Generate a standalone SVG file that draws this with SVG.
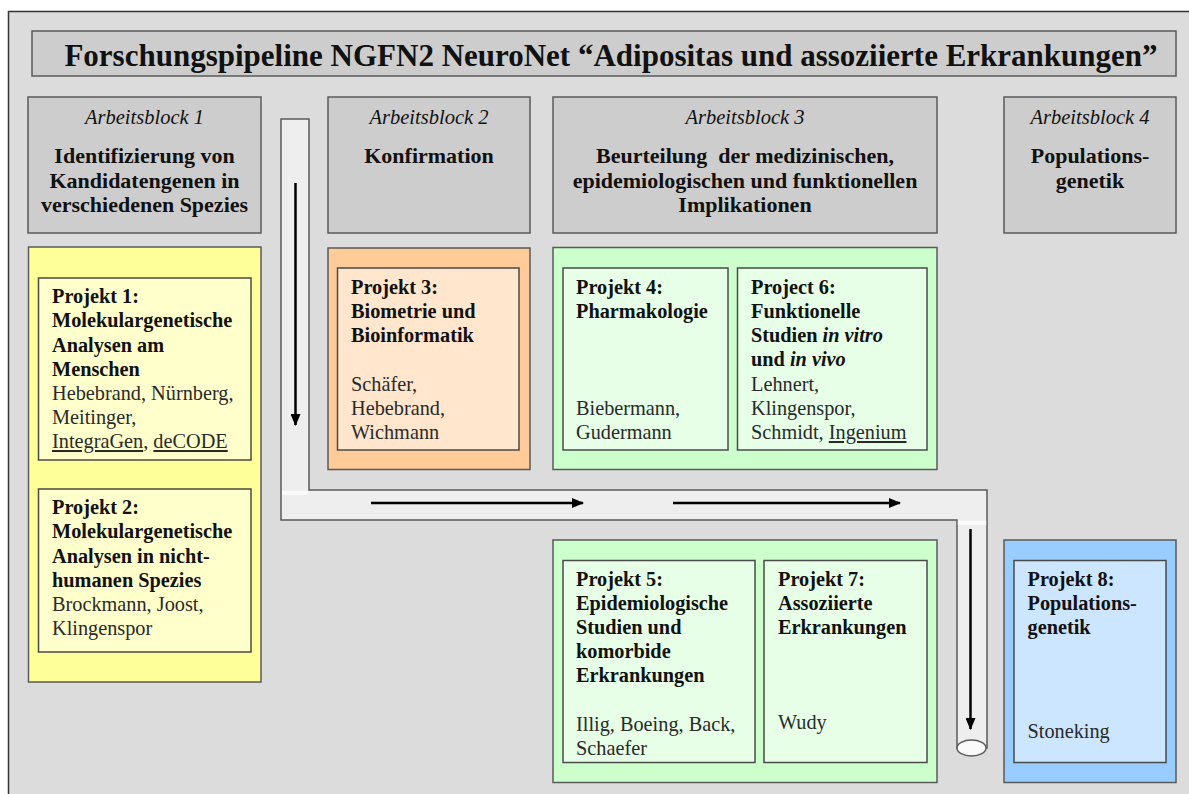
<svg xmlns="http://www.w3.org/2000/svg" width="1189" height="794" viewBox="0 0 1189 794">
<style>
text{font-family:"Liberation Serif","Times New Roman",serif;fill:#111}
.ab{fill:#cdcdcd;stroke:#5a5a5a;stroke-width:1.5}
.ttl{font-size:31px;font-weight:bold}
.it{font-size:20.5px;font-style:italic}
.hb{font-size:22px;font-weight:bold}
.pt{font-size:20.3px}
.b{font-weight:bold}
.nm{fill:#2a2a2a}
.u{text-decoration:underline}
.o{stroke:#5a5a5a;stroke-width:1.5}
.i{stroke:#4a4a4a;stroke-width:1.5}
.arr{stroke:#000;stroke-width:2.5;fill:none;marker-end:url(#ah)}
</style>
<defs>
<marker id="ah" viewBox="0 0 12 10" refX="11" refY="5" markerWidth="12" markerHeight="10" markerUnits="userSpaceOnUse" orient="auto">
<path d="M0,0 L12,5 L0,10 Z" fill="#000"/>
</marker>
</defs>
<rect x="0" y="0" width="1189" height="794" fill="#ffffff"/>
<rect id="frame" x="8.5" y="11.5" width="1190" height="800" fill="#dcdcdc" stroke="#333" stroke-width="1.5"/>

<g id="title">
<rect x="32" y="31" width="1144" height="45" class="ab"/>
<text x="611" y="66" text-anchor="middle" class="ttl">Forschungspipeline NGFN2 NeuroNet “Adipositas und assoziierte Erkrankungen”</text>
</g>

<g id="ab1">
<rect x="28" y="97" width="233" height="136" class="ab"/>
<text x="144.5" y="124" text-anchor="middle" class="it">Arbeitsblock 1</text>
<text text-anchor="middle" class="hb"><tspan x="144.5" y="163">Identifizierung von</tspan><tspan x="144.5" y="187.5">Kandidatengenen in</tspan><tspan x="144.5" y="212">verschiedenen Spezies</tspan></text>
</g>
<g id="ab2">
<rect x="328" y="97" width="202" height="136" class="ab"/>
<text x="429" y="124" text-anchor="middle" class="it">Arbeitsblock 2</text>
<text x="429" y="163" text-anchor="middle" class="hb">Konfirmation</text>
</g>
<g id="ab3">
<rect x="553" y="97" width="384" height="136" class="ab"/>
<text x="745" y="124" text-anchor="middle" class="it">Arbeitsblock 3</text>
<text text-anchor="middle" class="hb"><tspan x="745" y="163" xml:space="preserve">Beurteilung  der medizinischen,</tspan><tspan x="745" y="187.5">epidemiologischen und funktionellen</tspan><tspan x="745" y="212">Implikationen</tspan></text>
</g>
<g id="ab4">
<rect x="1004" y="97" width="172" height="136" class="ab"/>
<text x="1090" y="124" text-anchor="middle" class="it">Arbeitsblock 4</text>
<text text-anchor="middle" class="hb"><tspan x="1090" y="163">Populations-</tspan><tspan x="1090" y="187.5">genetik</tspan></text>
</g>

<g id="pipe">
<path d="M281,119 H309 V490 H987 V748 H957 V520 H281 Z" fill="#eeeeee" stroke="#5a5a5a" stroke-width="1.5"/>
<rect x="282" y="490.8" width="26" height="4" fill="#fafafa"/>
<rect x="957.8" y="520.8" width="28.4" height="4" fill="#fafafa"/>
<ellipse cx="971.5" cy="748" rx="14.5" ry="8" fill="#fafafa" stroke="#5a5a5a" stroke-width="1.5"/>
</g>

<g id="connectors">
<line x1="295.5" y1="183" x2="295.5" y2="425" class="arr"/>
<line x1="371" y1="503" x2="583" y2="503" class="arr"/>
<line x1="673" y1="503" x2="900" y2="503" class="arr"/>
<line x1="970.5" y1="529" x2="970.5" y2="729" class="arr"/>
</g>

<g id="block1">
<rect x="28.5" y="247" width="232.5" height="435" fill="#ffff99" class="o"/>
</g>
<g id="projekt1">
<rect x="38.5" y="278" width="212.5" height="182" fill="#ffffcc" class="i"/>
<text class="pt"><tspan x="52" y="303" class="b">Projekt 1:</tspan><tspan x="52" y="327" class="b">Molekulargenetische</tspan><tspan x="52" y="351.5" class="b">Analysen am</tspan><tspan x="52" y="376" class="b">Menschen</tspan><tspan x="52" y="400" class="nm">Hebebrand, Nürnberg,</tspan><tspan x="52" y="424" class="nm">Meitinger,</tspan><tspan x="52" y="448" class="nm"><tspan class="u">IntegraGen</tspan>, <tspan class="u">deCODE</tspan></tspan></text>
</g>
<g id="projekt2">
<rect x="38.5" y="489" width="212.5" height="163" fill="#ffffcc" class="i"/>
<text class="pt"><tspan x="52" y="514" class="b">Projekt 2:</tspan><tspan x="52" y="538" class="b">Molekulargenetische</tspan><tspan x="52" y="562.5" class="b">Analysen in nicht-</tspan><tspan x="52" y="587" class="b">humanen Spezies</tspan><tspan x="52" y="611" class="nm">Brockmann, Joost,</tspan><tspan x="52" y="635" class="nm">Klingenspor</tspan></text>
</g>

<g id="block2">
<rect x="328" y="248" width="202" height="221.5" fill="#ffcc99" class="o"/>
</g>
<g id="projekt3">
<rect x="337.5" y="268" width="181.5" height="182" fill="#ffe6cc" class="i"/>
<text class="pt"><tspan x="351" y="294" class="b">Projekt 3:</tspan><tspan x="351" y="318" class="b">Biometrie und</tspan><tspan x="351" y="342" class="b">Bioinformatik</tspan><tspan x="351" y="391" class="nm">Schäfer,</tspan><tspan x="351" y="415" class="nm">Hebebrand,</tspan><tspan x="351" y="439" class="nm">Wichmann</tspan></text>
</g>

<g id="block3top">
<rect x="553" y="247.5" width="384" height="222" fill="#ccffcc" class="o"/>
</g>
<g id="projekt4">
<rect x="563" y="268" width="165" height="182" fill="#e6ffe6" class="i"/>
<text class="pt"><tspan x="576" y="294" class="b">Projekt 4:</tspan><tspan x="576" y="318" class="b">Pharmakologie</tspan><tspan x="576" y="415" class="nm">Biebermann,</tspan><tspan x="576" y="439" class="nm">Gudermann</tspan></text>
</g>
<g id="projekt6">
<rect x="737.5" y="268" width="189.5" height="182" fill="#e6ffe6" class="i"/>
<text class="pt"><tspan x="751" y="294" class="b">Project 6:</tspan><tspan x="751" y="318" class="b">Funktionelle</tspan><tspan x="751" y="342" class="b">Studien <tspan font-style="italic">in vitro</tspan></tspan><tspan x="751" y="366" class="b">und <tspan font-style="italic">in vivo</tspan></tspan><tspan x="751" y="390.5" class="nm">Lehnert,</tspan><tspan x="751" y="415" class="nm">Klingenspor,</tspan><tspan x="751" y="439" class="nm">Schmidt, <tspan class="u">Ingenium</tspan></tspan></text>
</g>

<g id="block3bottom">
<rect x="553" y="540" width="384" height="242.5" fill="#ccffcc" class="o"/>
</g>
<g id="projekt5">
<rect x="563" y="560.5" width="192" height="202" fill="#e6ffe6" class="i"/>
<text class="pt"><tspan x="576" y="586" class="b">Projekt 5:</tspan><tspan x="576" y="609.5" class="b">Epidemiologische</tspan><tspan x="576" y="633.5" class="b">Studien und</tspan><tspan x="576" y="657.5" class="b">komorbide</tspan><tspan x="576" y="682" class="b">Erkrankungen</tspan><tspan x="576" y="730.5" class="nm">Illig, Boeing, Back,</tspan><tspan x="576" y="754.5" class="nm">Schaefer</tspan></text>
</g>
<g id="projekt7">
<rect x="764" y="560.5" width="163" height="202" fill="#e6ffe6" class="i"/>
<text class="pt"><tspan x="778" y="586" class="b">Projekt 7:</tspan><tspan x="778" y="609.5" class="b">Assoziierte</tspan><tspan x="778" y="633.5" class="b">Erkrankungen</tspan><tspan x="778" y="728.5" class="nm">Wudy</tspan></text>
</g>

<g id="block4">
<rect x="1004" y="540" width="172" height="242.5" fill="#99ccff" class="o"/>
</g>
<g id="projekt8">
<rect x="1014" y="560.5" width="152" height="202" fill="#cce6ff" class="i"/>
<text class="pt"><tspan x="1027.5" y="586" class="b">Projekt 8:</tspan><tspan x="1027.5" y="609.5" class="b">Populations-</tspan><tspan x="1027.5" y="633.5" class="b">genetik</tspan><tspan x="1027.5" y="738" class="nm">Stoneking</tspan></text>
</g>
</svg>
